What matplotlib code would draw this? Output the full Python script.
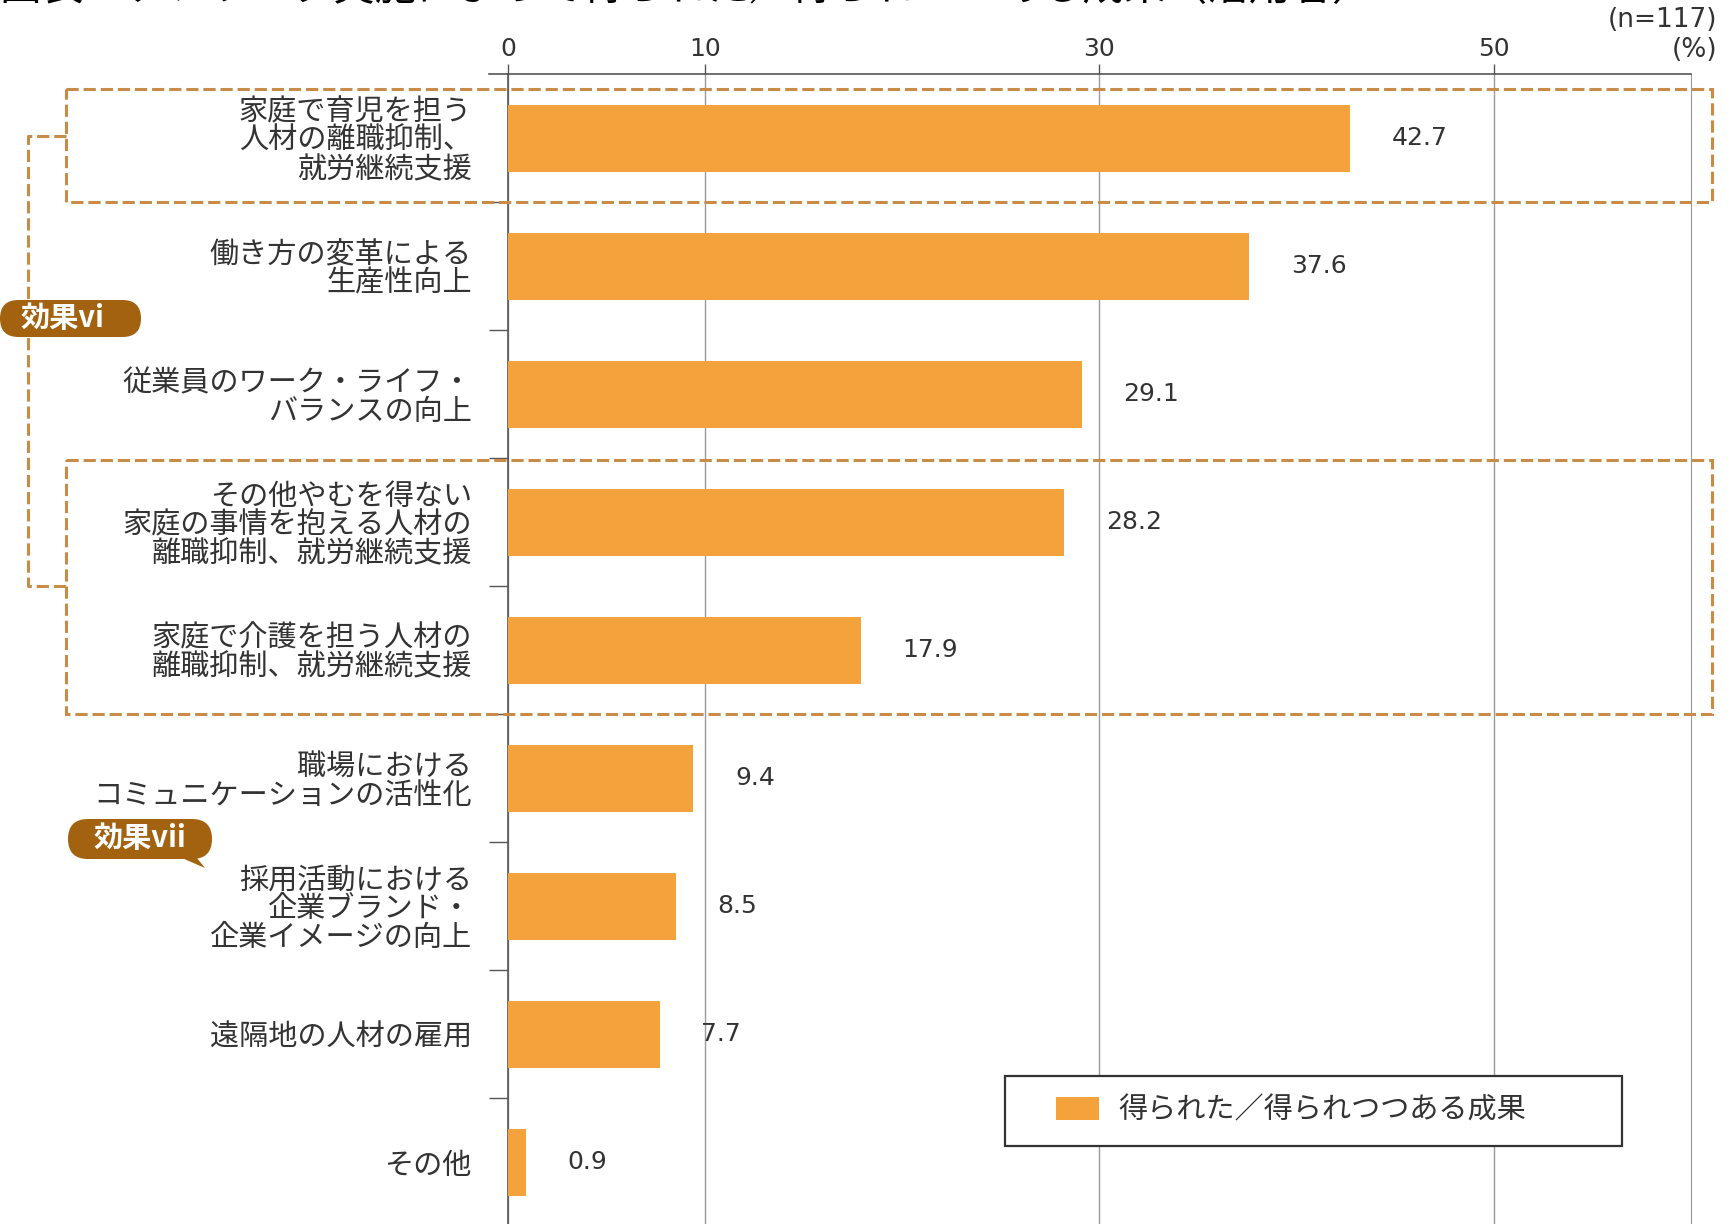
import numpy as np
import matplotlib.pyplot as plt
from matplotlib.patches import Rectangle, FancyBboxPatch, Polygon
from matplotlib.legend_handler import HandlerPatch

plt.rcParams['font.family'] = ['Noto Sans CJK JP', 'DejaVu Sans']

# data
categories = [
    "家庭で育児を担う\n人材の離職抑制、\n就労継続支援",
    "働き方の変革による\n生産性向上",
    "従業員のワーク・ライフ・\nバランスの向上",
    "その他やむを得ない\n家庭の事情を抱える人材の\n離職抑制、就労継続支援",
    "家庭で介護を担う人材の\n離職抑制、就労継続支援",
    "職場における\nコミュニケーションの活性化",
    "採用活動における\n企業ブランド・\n企業イメージの向上",
    "遠隔地の人材の雇用",
    "その他",
]
values = [42.7, 37.6, 29.1, 28.2, 17.9, 9.4, 8.5, 7.7, 0.9]
xticks = [0, 10, 30, 50]
legend_label = "得られた／得られつつある成果"
title = "図表　テレワーク実施によって得られた／得られつつある成果（活用者）"

bar_color = '#F4A23C'
dash_color = '#C68C48'
badge_color = '#A3620F'
text_color = '#333333'
num_font = ['DejaVu Sans']
W, H = 1731, 1224

fig = plt.figure(figsize=(W / 100, H / 100), dpi=100)
ax = fig.add_axes([508 / W, -0.002, 1183 / W, 1152 / H])

y = np.arange(len(values))
bars = ax.barh(y, values, height=0.52, color=bar_color, label=legend_label, zorder=3)
ax.bar_label(bars, labels=[f"{v:.1f}" for v in values], padding=30,
             fontsize=18, color=text_color, family=num_font)

ax.set_xlim(0, 60)
ax.set_ylim(len(values) - 0.5, -0.5)

ax.xaxis.tick_top()
ax.set_xticks(xticks)
ax.set_xticklabels([str(t) for t in xticks], fontsize=18, color=text_color, family=num_font)
ax.tick_params(axis='x', length=7, width=1, color='#555555', pad=3)
ax.grid(axis='x', color='#9a9a9a', lw=1, zorder=1)

ax.set_yticks(y)
ax.set_yticklabels(categories, fontsize=21, color=text_color)
for lab in ax.get_yticklabels():
    lab.set_linespacing(0.95)
ax.tick_params(axis='y', which='major', length=0, pad=26)
ax.set_yticks(np.arange(0.5, len(values) - 0.5, 1), minor=True)
ax.tick_params(axis='y', which='minor', length=14, width=1, color='#555555')

for s in ['left', 'top']:
    ax.spines[s].set_color('#555555')
    ax.spines[s].set_linewidth(1.2)
ax.spines['right'].set_color('#9a9a9a')
ax.spines['bottom'].set_visible(False)
ax.plot([-0.95, 0], [-0.5, -0.5], color='#555555', lw=1.2, clip_on=False)

# dashed group boxes and bracket
dash = (0, (4, 1.6))
for y0, y1 in [(-0.39, 0.5), (2.51, 4.5)]:
    ax.add_patch(Rectangle((-22.4, y0), 61.05 + 22.4, y1 - y0, fill=False,
                           ec=dash_color, lw=2.2, ls=dash, clip_on=False, zorder=4))
ax.plot([-22.4, -24.37, -24.37, -22.4], [-0.02, -0.02, 3.5, 3.5],
        color=dash_color, lw=2.2, ls=dash, clip_on=False, zorder=4)

# badges (pixel positions)
def inch(px, py):
    return px / 100, (H - py) / 100

tr = fig.dpi_scale_trans
x0, y0 = inch(0, 337)
fig.add_artist(FancyBboxPatch((x0, y0), 1.41, 0.37, boxstyle='round,pad=0,rounding_size=0.185',
                              fc=badge_color, ec='none', transform=tr))
fig.text(62 / W, 1 - 318 / H, "効果vi", color='white', fontsize=21, fontweight='bold',
         ha='center', va='center')

x0, y0 = inch(68, 859)
fig.add_artist(FancyBboxPatch((x0, y0), 1.44, 0.40, boxstyle='round,pad=0,rounding_size=0.2',
                              fc=badge_color, ec='none', transform=tr))
fig.add_artist(Polygon([inch(168, 852), inch(192, 852), inch(205, 868)], closed=True,
                       fc=badge_color, ec='none', transform=tr))
fig.text(140 / W, 1 - 838 / H, "効果vii", color='white', fontsize=21, fontweight='bold',
         ha='center', va='center')

# legend
def legend_patch(legend, orig_handle, xdescent, ydescent, width, height, fontsize):
    return Rectangle((-xdescent + 0.41 * width, -ydescent), 0.56 * width, height)

leg = ax.legend(handles=[bars.patches[0]], labels=[legend_label],
                loc='upper left', bbox_to_anchor=(0.42, 0.068, 0.522, 0.063), mode='expand',
                fontsize=21, frameon=True, fancybox=False, framealpha=1,
                handlelength=2.6, handleheight=0.85, borderpad=0.7, handletextpad=0.6,
                borderaxespad=0,
                handler_map={Rectangle: HandlerPatch(patch_func=legend_patch)})
leg.get_frame().set_edgecolor('#333333')
leg.get_frame().set_linewidth(1.6)
for t in leg.get_texts():
    t.set_color(text_color)

# header texts
fig.text(0, 1 - 9 / H, title, fontsize=30, ha='left', va='bottom', color='black')
fig.text(1717 / W, 1 - 20 / H, "(n=117)", fontsize=19, ha='right', va='center',
         color=text_color, family=num_font)
fig.text(1717 / W, 1 - 50 / H, "(%)", fontsize=19, ha='right', va='center',
         color=text_color, family=num_font)

fig.savefig('out.png', dpi=100)
